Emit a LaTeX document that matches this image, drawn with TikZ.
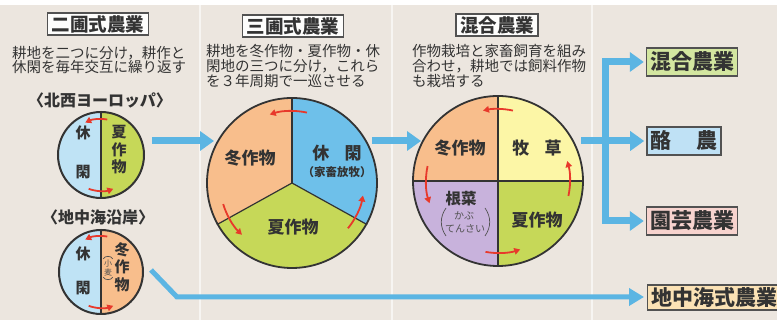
\documentclass[tikz,border=0pt]{standalone}
\usepackage{fontspec}
\setmainfont{Noto Sans CJK JP}
\usetikzlibrary{arrows.meta}
\definecolor{bg}{HTML}{ECE6DF}
\definecolor{pieorange}{HTML}{F8BE8C}
\definecolor{piegreen}{HTML}{C6D858}
\definecolor{pieblue}{HTML}{6EC0EA}
\definecolor{paleblue}{HTML}{BFE3F5}
\definecolor{pieyellow}{HTML}{FCF6A6}
\definecolor{piepurple}{HTML}{C8B2DC}
\definecolor{flow}{HTML}{5BB5E3}
\definecolor{cyc}{HTML}{E8392B}
\definecolor{ink}{HTML}{333333}
\definecolor{resgreen}{HTML}{D3E6A0}
\definecolor{resblue}{HTML}{BFE1F5}
\definecolor{respink}{HTML}{F7D3CE}
\definecolor{respeach}{HTML}{FBE2B5}
\begin{document}
\begin{tikzpicture}[x=1pt,y=1pt,
  titlebox/.style={draw=ink!85, line width=1.4pt, fill=white!92!bg, inner xsep=4pt, inner ysep=2pt, font=\fontsize{18.5}{18.5}\selectfont\bfseries, text=ink},
  desc/.style={align=left, anchor=west, inner sep=0pt, font=\fontsize{14.5}{13.3}\selectfont, text=ink},
  regionlab/.style={font=\fontsize{16}{16}\selectfont\bfseries, text=ink, inner sep=0pt},
  smallpie/.style={circle, draw=ink, line width=2pt, minimum size=86pt, inner sep=0pt},
  bigpie/.style={circle, draw=ink, line width=1.8pt, minimum size=170pt, inner sep=0pt},
  circlab/.style={font=\fontsize{15}{17.5}\selectfont\bfseries, text=ink, inner sep=0pt, align=center},
  pielab/.style={font=\fontsize{17}{17}\selectfont\bfseries, text=ink, inner sep=0pt},
  sublab/.style={font=\fontsize{11.5}{12}\selectfont\bfseries, text=ink, inner sep=0pt},
  kanalab/.style={font=\fontsize{10}{10}\selectfont, text=ink!85, inner sep=0pt},
  komlab/.style={font=\fontsize{8}{8.5}\selectfont, text=ink!85, inner sep=0pt, align=center},
  parenline/.style={draw=ink!85, line width=0.7pt},
  divider/.style={draw=ink, line width=1.2pt},
  cycarrow/.style={draw=cyc, line width=1.8pt, -{Triangle[length=6pt,width=6.5pt]}},
  flowarrow/.style={draw=flow, line width=7pt, -{Triangle[length=14pt,width=19pt]}},
  flowthin/.style={draw=flow, line width=5pt, -{Triangle[length=15pt,width=17pt]}},
  result/.style={draw=ink!85, line width=1.4pt, inner xsep=3.5pt, inner ysep=0pt, minimum height=28pt, font=\fontsize{21}{21}\selectfont\bfseries, text=ink},
]
\useasboundingbox (0,0) rectangle (777,320);
\clip (0,0) rectangle (777,320);
% background
\fill[white] (0,0) rectangle (777,320);
\fill[bg] (0,0) rectangle (777,315);
\foreach \sx in {200,392,592} \draw[white, opacity=0.6, line width=1.2pt] (\sx,0) -- (\sx,315);

% ---------- panel 1 ----------
\node[titlebox] (t1) at (98,296) {二圃式農業};
\node[desc] (d1) at (12,260) {耕地を二つに分け，耕作と\\休閑を毎年交互に繰り返す};
\node[regionlab] (g1) at (100,220) {〈北西ヨーロッパ〉};
\coordinate (c1c) at (101,165);
\fill[paleblue] ([shift={(0,43)}]c1c) arc[start angle=90, end angle=270, radius=43pt] -- cycle;
\fill[piegreen] ([shift={(0,-43)}]c1c) arc[start angle=-90, end angle=90, radius=43pt] -- cycle;
\node[smallpie] (c1) at (c1c) {};
\draw[divider] (c1.north) -- (c1.south);
\node[circlab] (c1a) at (83,187) {休};
\node[circlab] (c1b) at (83,148) {閑};
\node[circlab] (c1d) at (119,170) {夏\\作\\物};
\draw[cycarrow] ([shift={(80:36pt)}]c1c) arc[start angle=80, end angle=116, radius=36pt];
\draw[cycarrow] ([shift={(250:36pt)}]c1c) arc[start angle=250, end angle=290, radius=36pt];

\node[regionlab] (g2) at (98,103) {〈地中海沿岸〉};
\coordinate (c2c) at (101,48);
\fill[paleblue] ([shift={(0,42)}]c2c) arc[start angle=90, end angle=270, radius=42pt] -- cycle;
\fill[pieorange] ([shift={(0,-42)}]c2c) arc[start angle=-90, end angle=90, radius=42pt] -- cycle;
\node[smallpie, minimum size=84pt] (c2) at (c2c) {};
\draw[divider] (c2.north) -- (c2.south);
\node[circlab] (c2a) at (83,66) {休};
\node[circlab] (c2b) at (83,32) {閑};
\node[circlab] (c2d) at (122,53) {冬\\作\\物};
\node[komlab] (kom) at (108,52) {小\\麦};
\draw[parenline] ([shift={(-0.5,1)}]kom.north west) to[bend left=70] ([shift={(0.5,1)}]kom.north east);
\draw[parenline] ([shift={(-0.5,-1)}]kom.south west) to[bend right=70] ([shift={(0.5,-1)}]kom.south east);
\draw[cycarrow] ([shift={(80:36pt)}]c2c) arc[start angle=80, end angle=116, radius=36pt];
\draw[cycarrow] ([shift={(250:36pt)}]c2c) arc[start angle=250, end angle=290, radius=36pt];

% ---------- panel 2 ----------
\node[titlebox] (t2) at (293,294) {三圃式農業};
\node[desc] (d2) at (206,254) {耕地を冬作物・夏作物・休\\閑地の三つに分け，これら\\を３年周期で一巡させる};
\coordinate (p2c) at (292,137);
\fill[pieorange] (p2c) -- ++(90:85pt) arc[start angle=90, end angle=209, radius=85pt] -- cycle;
\fill[piegreen] (p2c) -- ++(209:85pt) arc[start angle=209, end angle=331, radius=85pt] -- cycle;
\fill[pieblue] (p2c) -- ++(331:85pt) arc[start angle=331, end angle=450, radius=85pt] -- cycle;
\node[bigpie] (p2) at (p2c) {};
\draw[divider] (p2.center) -- (p2.north);
\draw[divider] (p2.center) -- (p2.209);
\draw[divider] (p2.center) -- (p2.331);
\node[pielab] (p2a) at (250,162) {冬作物};
\node[pielab] (p2b) at (337,167) {休\hspace{0.9em}閑};
\node[sublab] (p2s) at (337,148) {（家畜放牧）};
\node[pielab] (p2d) at (293,93) {夏作物};
\draw[cycarrow] ([shift={(78:72pt)}]p2c) arc[start angle=78, end angle=108, radius=72pt];
\draw[cycarrow] ([shift={(197:72pt)}]p2c) arc[start angle=197, end angle=226, radius=72pt];
\draw[cycarrow] ([shift={(321:72pt)}]p2c) arc[start angle=321, end angle=350, radius=72pt];

% ---------- panel 3 ----------
\node[titlebox] (t3) at (497,295) {混合農業};
\node[desc] (d3) at (412,254) {作物栽培と家畜飼育を組み\\合わせ，耕地では飼料作物\\も栽培する};
\coordinate (p3c) at (498,139);
\fill[pieyellow] (p3c) -- ++(0:85pt) arc[start angle=0, end angle=90, radius=85pt] -- cycle;
\fill[pieorange] (p3c) -- ++(90:85pt) arc[start angle=90, end angle=180, radius=85pt] -- cycle;
\fill[piepurple] (p3c) -- ++(180:85pt) arc[start angle=180, end angle=270, radius=85pt] -- cycle;
\fill[piegreen] (p3c) -- ++(270:85pt) arc[start angle=270, end angle=360, radius=85pt] -- cycle;
\node[bigpie] (p3) at (p3c) {};
\draw[divider] (p3.north) -- (p3.south);
\draw[divider] (p3.west) -- (p3.east);
\node[pielab] (p3a) at (460,172) {冬作物};
\node[pielab] (p3b) at (537,172) {牧\hspace{0.9em}草};
\node[pielab, font=\fontsize{15.5}{15.5}\selectfont\bfseries] (p3c1) at (461,121) {根菜};
\node[kanalab] (kb) at (464,104) {かぶ};
\node[kanalab] (ts) at (465,91) {てんさい};
\node[pielab] (p3d) at (537,100) {夏作物};
\draw[parenline] (446,112) to[bend right=35] (446,84);
\draw[parenline] (485,112) to[bend left=35] (485,84);
\draw[cycarrow] ([shift={(78:72pt)}]p3c) arc[start angle=78, end angle=102, radius=72pt];
\draw[cycarrow] ([shift={(168:72pt)}]p3c) arc[start angle=168, end angle=198, radius=72pt];
\draw[cycarrow] ([shift={(260:72pt)}]p3c) arc[start angle=260, end angle=288, radius=72pt];
\draw[cycarrow] ([shift={(-12:72pt)}]p3c) arc[start angle=-12, end angle=16, radius=72pt];

% ---------- results ----------
\node[result, fill=resgreen, minimum width=91pt] (r1) at (692,258) {混合農業};
\node[result, fill=resblue, minimum width=73pt] (r2) at (684,179) {酪\hspace{1.2em}農};
\node[result, fill=respink, minimum width=91pt] (r3) at (692,99) {園芸農業};
\node[result, fill=respeach, anchor=west, minimum height=25pt] (r4) at (647,22.5) {地中海式農業};

% ---------- flows ----------
\coordinate (f1s) at (152,179);
\coordinate (f1e) at (214,179);
\draw[flowarrow] (f1s) -- (f1e);
\coordinate (f2s) at (372,179);
\coordinate (f2e) at (421,179);
\draw[flowarrow] (f2s) -- (f2e);
\coordinate (f3s) at (581,179);
\coordinate (fj) at (605,179);
\draw[flowarrow, shorten >=2pt] (f3s) -- (r2.west);
\draw[flowarrow, shorten >=2pt] (fj) |- (r1.west);
\draw[flowarrow, shorten >=2pt] (fj) |- (r3.west);
\coordinate (f4s) at (151,50);
\coordinate (f4k) at (177,23);
\draw[flowthin, shorten >=3pt] (f4s) -- (f4k) -- (f4k -| r4.west);
\end{tikzpicture}
\end{document}
